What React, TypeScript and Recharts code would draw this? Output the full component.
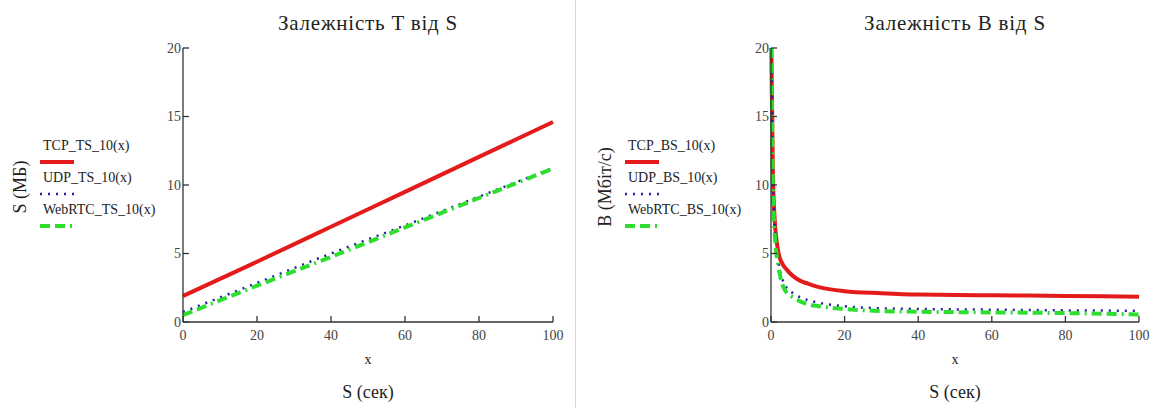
import React from "react";
import { Line, LineChart, XAxis, YAxis } from "recharts";

// left chart: size vs time (straight lines)
const xTs = [0, 20, 40, 60, 80, 100];
const tcpTs = [1.9, 4.4, 6.95, 9.5, 12.05, 14.6];
const udpTs = [0.73, 2.85, 5.0, 7.05, 9.15, 11.25];
const webrtcTs = [0.5, 2.65, 4.75, 6.9, 9.05, 11.2];

// right chart: bitrate vs size
const xBs = [0.1, 0.5, 1, 2, 3, 4, 6, 8, 10, 13, 20, 30, 40, 60, 80, 100];
const tcpBs = [20, 11, 7.5, 5.1, 4.3, 3.9, 3.35, 3.0, 2.8, 2.55, 2.25, 2.1, 2.0, 1.95, 1.9, 1.85];
const udpBs = [20, 10.5, 7, 4.4, 3.2, 2.6, 2.1, 1.8, 1.6, 1.4, 1.15, 1.0, 0.95, 0.9, 0.85, 0.82];
const webrtcBs = [20, 10, 6.5, 4.1, 2.8, 2.25, 1.8, 1.5, 1.3, 1.15, 0.95, 0.8, 0.75, 0.7, 0.65, 0.55];

const xTicks = [0, 20, 40, 60, 80, 100];
const yTicks = [0, 5, 10, 15, 20];

const FONT = "Liberation Serif";
const AXIS = "#333";

type Style = { color: string; width: number; dash?: string };
const styles: Style[] = [
  { color: "#e31b1b", width: 4 },
  { color: "#1f1fa8", width: 2.5, dash: "2 6" },
  { color: "#2ede2e", width: 4, dash: "10 5 10 5 2 5" },
];

const toRows = (xs: number[], a: number[], b: number[], c: number[]) =>
  xs.map((x, i) => ({ x, s0: a[i], s1: b[i], s2: c[i] }));

const tsRows = toRows(xTs, tcpTs, udpTs, webrtcTs);
const bsRows = toRows(xBs, tcpBs, udpBs, webrtcBs);

const tickStyle = { fill: "#444", fontSize: 14, fontFamily: FONT };

function Panel({
  rows,
  left,
  width,
  plotLeft,
  plotRight,
  title,
  yLabel,
  yLabelX,
  names,
  legendX,
}: {
  rows: any[];
  left: number;
  width: number;
  plotLeft: number;
  plotRight: number;
  title: string;
  yLabel: string;
  yLabelX: number;
  names: string[];
  legendX: number;
}) {
  const cx = (plotLeft + plotRight) / 2;
  return (
    <div style={{ position: "absolute", left, top: 0, width, height: 408, fontFamily: FONT, color: "#222" }}>
      <div
        style={{
          position: "absolute",
          left: cx - 150,
          width: 300,
          top: 11,
          textAlign: "center",
          fontSize: 21,
          letterSpacing: 0.8,
        }}
      >
        {title}
      </div>
      <LineChart
        width={width}
        height={408}
        data={rows}
        margin={{ top: 48, right: width - plotRight, bottom: 56, left: plotLeft - 30 }}
        style={{ position: "absolute", left: 0, top: 0 }}
      >
        <XAxis
          xAxisId="b"
          dataKey="x"
          type="number"
          domain={[0, 100]}
          ticks={xTicks}
          height={30}
          tickSize={-6}
          tickMargin={14}
          tick={tickStyle}
          stroke={AXIS}
          strokeWidth={1.3}
        />
        <XAxis
          xAxisId="t"
          orientation="top"
          dataKey="x"
          type="number"
          domain={[0, 100]}
          ticks={xTicks}
          height={0}
          tickSize={-6}
          tickFormatter={() => ""}
          stroke={AXIS}
          strokeWidth={1.3}
        />
        <YAxis
          yAxisId="l"
          type="number"
          domain={[0, 20]}
          ticks={yTicks}
          width={30}
          tickSize={-6}
          tickMargin={8}
          tick={tickStyle}
          stroke={AXIS}
          strokeWidth={1.3}
          allowDataOverflow
        />
        <YAxis
          yAxisId="r"
          orientation="right"
          type="number"
          domain={[0, 20]}
          ticks={yTicks}
          width={0}
          tickSize={-6}
          tickFormatter={() => ""}
          stroke={AXIS}
          strokeWidth={1.3}
        />
        {styles.map((s, i) => (
          <Line
            key={i}
            xAxisId="b"
            yAxisId="l"
            type="monotone"
            dataKey={"s" + i}
            stroke={s.color}
            strokeWidth={s.width}
            strokeDasharray={s.dash}
            dot={false}
            isAnimationActive={false}
          />
        ))}
      </LineChart>
      <div
        style={{
          position: "absolute",
          left: yLabelX - 100,
          top: 187 - 12,
          width: 200,
          textAlign: "center",
          fontSize: 18,
          transform: "rotate(-90deg)",
          lineHeight: "24px",
        }}
      >
        {yLabel}
      </div>
      {names.map((n, i) => (
        <React.Fragment key={n}>
          <div style={{ position: "absolute", left: legendX + 3, top: 138 + i * 32, fontSize: 14, whiteSpace: "nowrap" }}>
            {n}
          </div>
          <svg style={{ position: "absolute", left: legendX, top: 158 + i * 32 }} width={36} height={8}>
            <line
              x1={0}
              x2={34}
              y1={4}
              y2={4}
              stroke={styles[i].color}
              strokeWidth={styles[i].width}
              strokeDasharray={styles[i].dash}
            />
          </svg>
        </React.Fragment>
      ))}
      <div style={{ position: "absolute", left: cx - 50, width: 100, top: 352, textAlign: "center", fontSize: 14 }}>x</div>
      <div style={{ position: "absolute", left: cx - 100, width: 200, top: 382, textAlign: "center", fontSize: 18 }}>
        S (сек)
      </div>
    </div>
  );
}

export default function App() {
  return (
    <div style={{ position: "absolute", left: 0, top: 0, width: 1161, height: 408, background: "#fff", overflow: "hidden" }}>
      <Panel
        rows={tsRows}
        left={0}
        width={575}
        plotLeft={183}
        plotRight={553}
        title="Залежність T від S"
        yLabel="S (МБ)"
        yLabelX={20}
        names={["TCP_TS_10(x)", "UDP_TS_10(x)", "WebRTC_TS_10(x)"]}
        legendX={40}
      />
      <div style={{ position: "absolute", left: 575, top: 0, width: 1, height: 408, background: "#d9d9d9" }} />
      <Panel
        rows={bsRows}
        left={580}
        width={581}
        plotLeft={191}
        plotRight={559}
        title="Залежність B від S"
        yLabel="B (Мбіт/с)"
        yLabelX={25}
        names={["TCP_BS_10(x)", "UDP_BS_10(x)", "WebRTC_BS_10(x)"]}
        legendX={45}
      />
    </div>
  );
}
